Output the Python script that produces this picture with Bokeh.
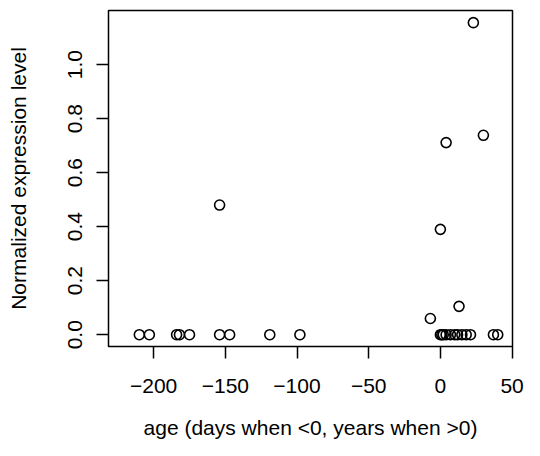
from bokeh.plotting import figure
from bokeh.models import Range1d, FixedTicker
from bokeh.embed import file_html
from bokeh.resources import INLINE

# ---- data ----
age = [-210, -203, -184, -182, -175, -154, -147, -119, -98,
       -154, -7,
       0, 1, 2, 4, 7, 10, 12, 15, 18, 21, 37, 40,
       0, 4, 13, 23, 30]
expression = [0, 0, 0, 0, 0, 0, 0, 0, 0,
              0.48, 0.06,
              0, 0, 0, 0, 0, 0, 0, 0, 0, 0, 0, 0,
              0.39, 0.711, 0.105, 1.155, 0.738]

x_ticks = [-200, -150, -100, -50, 0, 50]
x_tick_labels = ["\u2212200", "\u2212150", "\u2212100", "\u221250", "0", "50"]
y_ticks = [0.0, 0.2, 0.4, 0.6, 0.8, 1.0]
y_tick_labels = ["0.0", "0.2", "0.4", "0.6", "0.8", "1.0"]
x_label = "age (days when <0, years when >0)"
y_label = "Normalized expression level"

FONT = "Liberation Sans"

p = figure(frame_width=404, frame_height=336,
           x_range=Range1d(-231.5, 50.3), y_range=Range1d(-0.0436, 1.2),
           output_backend="svg", toolbar_location=None,
           min_border_left=108, min_border_right=12,
           min_border_top=10, min_border_bottom=94,
           background_fill_color="white", border_fill_color="white")

p.scatter(age, expression, marker="circle", size=10,
          fill_color=None, line_color="black", line_width=1.6)

p.xgrid.visible = False
p.ygrid.visible = False
p.outline_line_color = "black"
p.outline_line_width = 1.5

p.xaxis.ticker = FixedTicker(ticks=x_ticks)
p.xaxis.major_label_overrides = {t: l for t, l in zip(x_ticks, x_tick_labels)}
p.yaxis.ticker = FixedTicker(ticks=y_ticks)
p.yaxis.major_label_overrides = {t: l for t, l in zip(y_ticks, y_tick_labels)}
p.yaxis.major_label_orientation = "vertical"

for ax in (p.xaxis, p.yaxis):
    ax.axis_line_color = None
    ax.major_tick_in = 0
    ax.major_tick_out = 12
    ax.minor_tick_out = 0
    ax.minor_tick_in = 0
    ax.major_tick_line_color = "black"
    ax.major_tick_line_width = 1.5
    ax.major_label_text_font = FONT
    ax.major_label_text_font_size = "21px"
    ax.major_label_text_color = "black"
    ax.axis_label_text_font = FONT
    ax.axis_label_text_font_size = "21px"
    ax.axis_label_text_font_style = "normal"
    ax.axis_label_text_color = "black"

p.xaxis.axis_label = x_label
p.yaxis.axis_label = y_label
p.xaxis.major_label_standoff = 20
p.xaxis.axis_label_standoff = 20
p.yaxis.major_label_standoff = 14
p.yaxis.axis_label_standoff = 36

open("out.html", "w").write(file_html(p, INLINE))
